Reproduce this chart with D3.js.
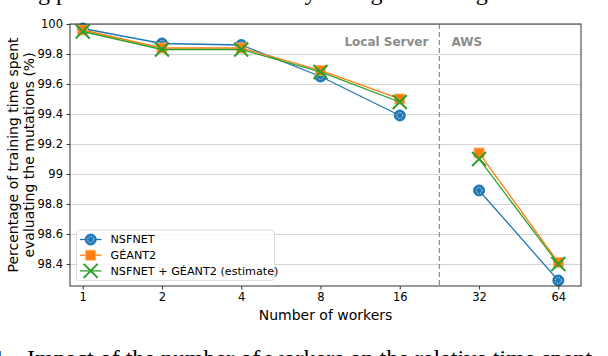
<!DOCTYPE html>
<meta charset='utf-8'>
<style>
body { margin: 0; background: #fff; }
svg text { font-family: 'DejaVu Sans', sans-serif; }
.tick text { font-size: 11.5px; fill: #000; }
.grid line { stroke: #d4d4d4; }
.grid .domain { stroke: none; }
.caption { font: 24px 'Liberation Serif', serif; fill: #000; }
.zone { font-size: 12px; font-weight: bold; fill: #8c8c8c; }
</style>
<body>
<script src='https://d3js.org/d3.v7.min.js'></script>
<script>

// Data

let workers = ['1', '2', '4', '8', '16', '32', '64'],
	yTicks = [100, 99.8, 99.6, 99.4, 99.2, 99, 98.8, 98.6, 98.4],
	nsfnet = [99.97, 99.87, 99.86, 99.65, 99.39, 98.89, 98.29],
	geant2 = [99.96, 99.84, 99.84, 99.69, 99.50, 99.14, 98.41],
	combined = [99.95, 99.83, 99.83, 99.68, 99.48, 99.10, 98.40],
	seriesNames = ['NSFNET', 'GÉANT2', 'NSFNET + GÉANT2 (estimate)']

let series = [
	{name: seriesNames[0], values: nsfnet, color: '#1f77b4', marker: 'circle'},
	{name: seriesNames[1], values: geant2, color: '#ff7f0e', marker: 'square'},
	{name: seriesNames[2], values: combined, color: '#2ca02c', marker: 'cross'}]


// Layout

let W = 608, H = 356,
	margin = {top: 24, right: 27, bottom: 70, left: 70},
	width = W - margin.left - margin.right,
	height = H - margin.top - margin.bottom,
	x = d3.scaleLinear().domain([-0.16, 6.286]).range([0, width]),
	y = d3.scaleLinear().domain([98.253, 100]).range([height, 0])

let svg = d3.select('body').append('svg').attr('width', W).attr('height', H)

// clipped caption lines from the surrounding page
svg.append('text').attr('class', 'caption').attr('x', 26).attr('y', 0)
	.text('ng processes are calculated by taking the average of')
let cap = svg.append('text').attr('class', 'caption').attr('y', 366)
cap.append('tspan').attr('x', -9).text('4.')
cap.append('tspan').attr('x', 27).text('Impact of the number of workers on the relative time spent')

let vis = svg.append('g').attr('transform', `translate(${margin.left},${margin.top})`)

vis.append('g').attr('class', 'grid')
	.call(d3.axisLeft(y).tickValues(yTicks).tickSize(-width).tickFormat(''))

vis.append('line')
	.attr('x1', x(4.5)).attr('x2', x(4.5)).attr('y1', 0).attr('y2', height)
	.attr('stroke', '#8c8c8c').attr('stroke-width', 1.2).attr('stroke-dasharray', '5,3')

vis.append('text').attr('class', 'zone').attr('x', x(4.5) - 11).attr('y', 22)
	.attr('text-anchor', 'end').text('Local Server')
vis.append('text').attr('class', 'zone').attr('x', x(4.5) + 12).attr('y', 22)
	.text('AWS')


// Lines and markers

let line = d3.line().x(d => x(d.i)).y(d => y(d.v))

let drawMarker = (g, s) => {
	if (s.marker == 'circle') {
		g.append('circle').attr('r', 5.5).attr('fill', s.color)
			.attr('stroke', s.color).attr('stroke-width', 1)
		g.append('circle').attr('r', 3).attr('fill', 'none')
			.attr('stroke', '#fff').attr('stroke-width', 0.8).attr('stroke-dasharray', '1.2,1.2')
	} else if (s.marker == 'square') {
		g.append('rect').attr('x', -5).attr('y', -5).attr('width', 10).attr('height', 10)
			.attr('fill', s.color).attr('stroke', '#ffb26b').attr('stroke-width', 0.8)
	} else {
		g.append('path').attr('d', 'M-7,-7L7,7M-7,7L7,-7')
			.attr('stroke', s.color).attr('stroke-width', 2).attr('fill', 'none')
	}
}

series.forEach(s => {
	let pts = s.values.map((v, i) => ({i, v}))
	// local server and AWS runs are drawn as separate segments
	let segs = [pts.slice(0, 5), pts.slice(5)]
	segs.forEach(seg => vis.append('path').datum(seg)
		.attr('d', line).attr('fill', 'none')
		.attr('stroke', s.color).attr('stroke-width', 1.3))
	pts.forEach(p => {
		let g = vis.append('g').attr('transform', `translate(${x(p.i)},${y(p.v)})`)
		drawMarker(g, s)
	})
})


// Axes

let yAxis = vis.append('g')
	.call(d3.axisLeft(y).tickValues(yTicks).tickSize(3.5).tickPadding(3.5)
		.tickFormat(d => d3.format('')(+d.toFixed(1))))
let xAxis = vis.append('g').attr('transform', `translate(0,${height})`)
	.call(d3.axisBottom(x).tickValues(d3.range(7)).tickSize(3.5).tickPadding(3.5)
		.tickFormat(i => workers[i]))
;[yAxis, xAxis].forEach(a => {
	a.select('.domain').remove()
	a.selectAll('.tick line').attr('stroke', '#333')
})

vis.append('rect').attr('width', width).attr('height', height)
	.attr('fill', 'none').attr('stroke', '#333').attr('stroke-width', 1)

svg.append('text').attr('x', margin.left + width / 2).attr('y', 320)
	.attr('text-anchor', 'middle').attr('font-size', 14).text('Number of workers')

let ylab = svg.append('text').attr('font-size', 14).attr('text-anchor', 'middle')
	.attr('transform', `translate(18,${margin.top + height / 2}) rotate(-90)`)
ylab.append('tspan').attr('x', 0).attr('y', 0).text('Percentage of training time spent')
ylab.append('tspan').attr('x', 0).attr('y', 16).text('evaluating the mutations (%)')


// Legend

let legend = vis.append('g').attr('transform', `translate(${76.5 - margin.left},${230 - margin.top})`)
legend.append('rect').attr('width', 198).attr('height', 50.5).attr('rx', 3)
	.attr('fill', 'rgba(255,255,255,0.8)').attr('stroke', '#ddd')
series.forEach((s, k) => {
	let g = legend.append('g').attr('transform', `translate(0,${9.5 + k * 15.7})`)
	g.append('line').attr('x1', 3.5).attr('x2', 25).attr('stroke', s.color).attr('stroke-width', 1.3)
	drawMarker(g.append('g').attr('transform', 'translate(14.2,0)'), s)
	g.append('text').attr('x', 34).attr('dy', '0.35em').attr('font-size', 11.2).text(s.name)
})

</script>
</body>
